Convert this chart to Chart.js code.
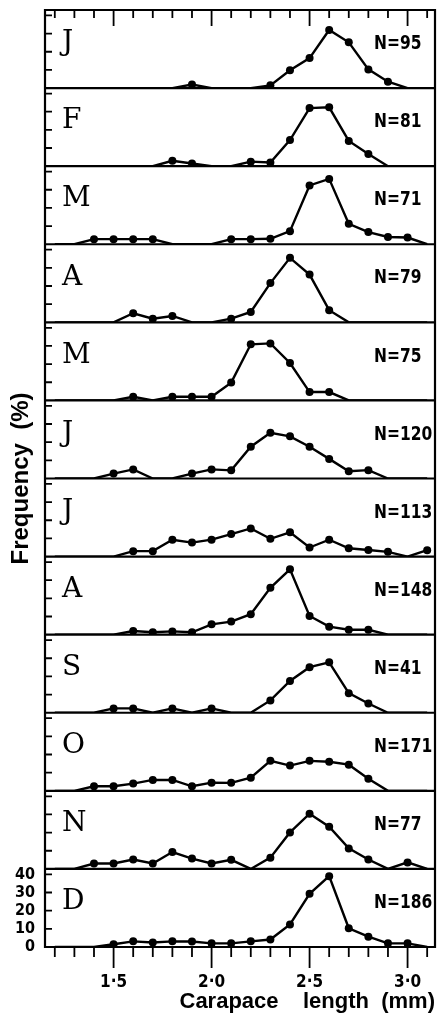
<!DOCTYPE html>
<html>
<head>
<meta charset="utf-8">
<script src="https://cdn.jsdelivr.net/npm/chart.js@4/dist/chart.umd.min.js"></script>
<style>
  html, body { margin: 0; padding: 0; background: #fff; }
  #wrap { width: 439px; height: 1015px; position: relative; }
</style>
</head>
<body>
<div id="wrap"><canvas id="c"></canvas></div>
<script>
// Carapace length classes (mm)
const lengths = [1.2, 1.3, 1.4, 1.5, 1.6, 1.7, 1.8, 1.9, 2.0, 2.1, 2.2, 2.3, 2.4, 2.5, 2.6, 2.7, 2.8, 2.9, 3.0, 3.1];

// Monthly samples, top to bottom
const months = ['J', 'F', 'M', 'A', 'M', 'J', 'J', 'A', 'S', 'O', 'N', 'D'];
const sampleSizes = [95, 81, 71, 79, 75, 120, 113, 148, 41, 171, 77, 186];

// Frequency (%) in each length class
const freqJan = [0, 0, 0, 0, 0, 0, 0, 2, 0, 0, 0, 1.5, 9.8, 16.5, 32, 25.2, 10.3, 3.5, 0, 0];
const freqFeb = [0, 0, 0, 0, 0, 0, 3, 1.5, 0, 0, 2.5, 2, 14.4, 32, 32.4, 13.9, 6.7, 0, 0, 0];
const freqMar = [0, 0, 2.8, 2.8, 2.8, 2.8, 0, 0, 0, 2.8, 2.8, 3, 7.2, 32.4, 36, 11.3, 6.7, 4, 3.7, 0];
const freqApr = [0, 0, 0, 0, 5, 2, 3.5, 0, 0, 2, 5.7, 21.6, 35.5, 26.3, 6.7, 0, 0, 0, 0, 0];
const freqMay = [0, 0, 0, 0, 2, 0, 2, 2, 2, 9.8, 30.9, 31.4, 20.6, 4.6, 4.6, 0, 0, 0, 0, 0];
const freqJun = [0, 0, 0, 2.7, 5, 0, 0, 2.7, 5, 4.5, 17.5, 25.2, 23.2, 17.5, 10.8, 4, 4.6, 0, 0, 0];
const freqJul = [0, 0, 0, 0, 3, 3, 9.3, 7.7, 9.3, 12.4, 15.5, 9.8, 13.4, 5, 9.3, 4.6, 3.6, 2.6, 0, 3.5];
const freqAug = [0, 0, 0, 0, 2, 1.3, 1.8, 1.3, 5.7, 7.2, 11.3, 25.8, 36, 10.3, 4.4, 2.7, 2.7, 0, 0, 0];
const freqSep = [0, 0, 0, 2.4, 2.4, 0, 2.4, 0, 2.4, 0, 0, 6.8, 17.5, 25.1, 27.8, 10.8, 5.1, 0, 0, 0];
const freqOct = [0, 0, 2.5, 2.5, 4, 6, 6, 2.5, 4.5, 4.4, 7.2, 16.5, 13.9, 16.5, 16, 14.4, 6.7, 0, 0, 0];
const freqNov = [0, 0, 3, 3, 5.2, 3, 9.3, 5.7, 3, 5, 0, 6.2, 20.1, 30.4, 23.2, 11.3, 5.2, 0, 3.6, 0];
const freqDec = [0, 0, 0, 1.5, 3.1, 2.5, 3.1, 3, 2, 2, 3.1, 4.1, 12.4, 29.3, 39, 10.3, 5.7, 2, 2, 0];

const monthlyFreq = [freqJan, freqFeb, freqMar, freqApr, freqMay, freqJun,
                     freqJul, freqAug, freqSep, freqOct, freqNov, freqDec];

// Axis ticks
const xTickValues = lengths;                    // small tick every 0.1 mm
const xLabelValues = [1.5, 2.0, 2.5, 3.0];      // long, labelled ticks
const xLabelText = ['1·5', '2·0', '2·5', '3·0'];
const yTickValues = [0, 10, 20, 30, 40];
const yLabelText = ['0', '10', '20', '30', '40'];

const condensed = "'DejaVu Sans Condensed', 'Liberation Sans Narrow', 'DejaVu Sans', sans-serif";
const INK = '#000';

const datasets = monthlyFreq.map((vals, i) => ({
  label: months[i],
  yAxisID: 'y' + i,
  data: lengths.map((x, k) => ({ x: x, y: vals[k] })),
  borderColor: INK,
  backgroundColor: INK,
  borderWidth: 2.4,
  tension: 0,
  pointRadius: ctx => (ctx.parsed && ctx.parsed.y > 0 ? 4 : 0),
  pointBorderWidth: 0,
  pointHoverRadius: 0
}));

const scales = {
  x: {
    type: 'linear',
    position: 'bottom',
    min: 1.15,
    max: 3.14,
    afterBuildTicks: s => { s.ticks = xLabelValues.map(v => ({ value: v })); },
    afterFit: s => { s.height = 68; },
    grid: { display: false },
    border: { display: false },
    ticks: {
      autoSkip: false,
      maxRotation: 0,
      padding: 17,
      color: INK,
      font: { family: condensed, weight: 'bold', size: 17 },
      callback: (v, idx) => xLabelText[idx]
    },
    title: {
      display: true,
      text: 'Carapace    length  (mm)',
      align: 'end',
      color: INK,
      font: { family: "'Liberation Sans', Arial, sans-serif", size: 22, weight: 'bold' },
      padding: { top: 0, bottom: 0 }
    }
  }
};

months.forEach((m, i) => {
  scales['y' + i] = {
    type: 'linear',
    position: 'left',
    stack: 'months',
    stackWeight: 1,
    weight: months.length - i,
    min: 0,
    max: 43,
    afterBuildTicks: s => { s.ticks = yTickValues.map(v => ({ value: v })); },
    afterFit: s => { s.width = 45; },
    grid: { display: false },
    border: { display: false },
    ticks: {
      display: i === months.length - 1,
      autoSkip: false,
      padding: 2,
      color: INK,
      font: { family: condensed, weight: 'bold', size: 16, lineHeight: 1 },
      callback: (v, idx) => yLabelText[idx]
    }
  };
});

// Panel frames, inward tick marks, month letters, sample sizes and the y title
const panelFrame = {
  id: 'panelFrame',
  afterDatasetsDraw(chart) {
    const { ctx, chartArea: a } = chart;
    const xs = chart.scales.x;
    ctx.save();
    ctx.strokeStyle = INK;
    ctx.fillStyle = INK;
    ctx.lineCap = 'butt';

    // outer box and panel separators
    ctx.lineWidth = 2.2;
    ctx.beginPath();
    ctx.moveTo(a.left, a.top); ctx.lineTo(a.right, a.top);
    ctx.moveTo(a.left, a.top - 1); ctx.lineTo(a.left, a.bottom + 1);
    ctx.moveTo(a.right, a.top - 1); ctx.lineTo(a.right, a.bottom + 1);
    months.forEach((m, i) => {
      const ys = chart.scales['y' + i];
      ctx.moveTo(a.left, ys.bottom); ctx.lineTo(a.right, ys.bottom);
    });
    ctx.stroke();

    // y ticks pointing into every panel
    ctx.lineWidth = 1.8;
    ctx.beginPath();
    months.forEach((m, i) => {
      const ys = chart.scales['y' + i];
      yTickValues.forEach(v => {
        if (v === 0) return;
        const py = ys.getPixelForValue(v);
        ctx.moveTo(a.left, py); ctx.lineTo(a.left + 7, py);
      });
    });
    // x ticks: inward along the top, outward along the bottom
    xTickValues.forEach(v => {
      const px = xs.getPixelForValue(v);
      const major = xLabelValues.some(t => Math.abs(t - v) < 1e-6);
      ctx.moveTo(px, a.top); ctx.lineTo(px, a.top + (major ? 16 : 8));
      ctx.moveTo(px, a.bottom); ctx.lineTo(px, a.bottom + (major ? 21 : 10));
    });
    ctx.stroke();

    // month letter and sample size in each panel
    ctx.textBaseline = 'middle';
    ctx.textAlign = 'left';
    months.forEach((m, i) => {
      const ys = chart.scales['y' + i];
      ctx.font = "28px 'DejaVu Serif', 'Liberation Serif', serif";
      ctx.fillText(m, a.left + 17, ys.top + 33);
      ctx.save();
      ctx.translate(a.left + 329, ys.top + 34);
      ctx.scale(0.86, 1);
      ctx.font = 'bold 20px ' + condensed;
      ctx.fillText('N=' + sampleSizes[i], 0, 0);
      ctx.restore();
    });

    // rotated y-axis title
    ctx.translate(21, (a.top + a.bottom) / 2);
    ctx.rotate(-Math.PI / 2);
    ctx.textAlign = 'center';
    ctx.font = "bold 24px 'Liberation Sans', Arial, sans-serif";
    ctx.fillText('Frequency  (%)', 0, 0);
    ctx.restore();
  }
};

new Chart(document.getElementById('c'), {
  type: 'line',
  data: { datasets },
  options: {
    responsive: true,
    maintainAspectRatio: false,
    animation: false,
    events: [],
    layout: { padding: { top: 10, right: 4, left: 0, bottom: 0 } },
    plugins: { legend: { display: false }, tooltip: { enabled: false }, title: { display: false } },
    scales
  },
  plugins: [panelFrame]
});
</script>
</body>
</html>
